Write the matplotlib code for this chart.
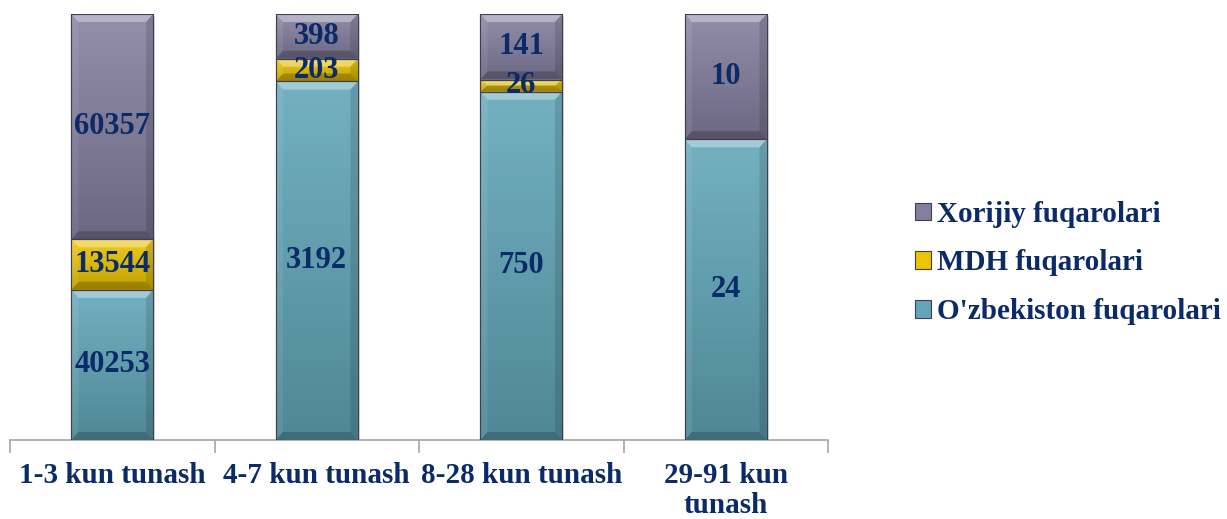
import matplotlib
matplotlib.use("Agg")
import matplotlib.pyplot as plt
import numpy as np
from matplotlib.patches import Polygon, Rectangle
from matplotlib.colors import to_rgb

categories = ["1-3 kun tunash", "4-7 kun tunash", "8-28 kun tunash", "29-91 kun\ntunash"]
series_names = ["O'zbekiston fuqarolari", "MDH fuqarolari", "Xorijiy fuqarolari"]
ozb = [40253, 3192, 750, 24]
mdh = [13544, 203, 26, 0]
xor = [60357, 398, 141, 10]
series = [ozb, mdh, xor]
colors = ["#60a6b8", "#ecc400", "#847e9f"]

plt.rcParams['font.family'] = ['Liberation Serif', 'DejaVu Serif']
txt_color = "#0b2a68"

fig = plt.figure(figsize=(12.27, 5.19), dpi=100)
ax = fig.add_axes([10/1227, 1-440/519, 818/1227, 426/519])

x = np.arange(len(categories))
totals = np.array(ozb) + np.array(mdh) + np.array(xor)
bottom = np.zeros(len(categories))
width = 0.4

def shade(c, f):
    r = np.array(to_rgb(c))
    if f > 0:
        return tuple(r + (1 - r) * f)
    return tuple(r * (1 + f))

bx = 0.035
by_px = 8 / 424.0
for s, (vals, col, name) in enumerate(zip(series, colors, series_names)):
    frac = np.array(vals) / totals
    bars = ax.bar(x, frac, width, bottom=bottom, color=col, edgecolor="#3e3e4e",
                  linewidth=0.8, label=name, zorder=3)
    for i, (b, v) in enumerate(zip(bars, vals)):
        if v == 0:
            continue
        x0, y0 = b.get_x(), b.get_y()
        w, h = b.get_width(), b.get_height()
        x1, y1 = x0 + w, y0 + h
        grad = np.linspace(0, 1, 64).reshape(-1, 1)
        top_c = np.array(shade(col, 0.12))
        bot_c = np.array(shade(col, -0.18))
        img = top_c[None, None, :] * (1 - grad[:, :, None]) + bot_c[None, None, :] * grad[:, :, None]
        im = ax.imshow(img, extent=[x0, x1, y0, y1], origin="upper", aspect="auto", zorder=3.1)
        im.set_clip_path(b)
        by = min(by_px, h / 2)
        bxx = min(bx, w / 2)
        ax.add_patch(Polygon([(x0, y1), (x1, y1), (x1 - bxx, y1 - by), (x0 + bxx, y1 - by)],
                             closed=True, facecolor="white", alpha=0.35, lw=0, zorder=3.2))
        ax.add_patch(Polygon([(x0, y0), (x1, y0), (x1 - bxx, y0 + by), (x0 + bxx, y0 + by)],
                             closed=True, facecolor="black", alpha=0.2, lw=0, zorder=3.2))
        ax.add_patch(Polygon([(x0, y0), (x0, y1), (x0 + bxx, y1 - by), (x0 + bxx, y0 + by)],
                             closed=True, facecolor="white", alpha=0.08, lw=0, zorder=3.2))
        ax.add_patch(Polygon([(x1, y0), (x1, y1), (x1 - bxx, y1 - by), (x1 - bxx, y0 + by)],
                             closed=True, facecolor="black", alpha=0.12, lw=0, zorder=3.2))
        ax.add_patch(Rectangle((x0, y0), w, h, facecolor="none", edgecolor="#3e3e4e",
                               lw=0.8, zorder=3.3))
        ax.text(x0 + w / 2, y0 + h / 2, str(v), ha="center", va="center",
                fontsize=22, fontweight="bold", color=txt_color, zorder=5)
    bottom += frac

for i in range(len(categories)):
    ax.add_patch(Rectangle((x[i] - width / 2 + 0.01, -0.006), width, 1.0, facecolor="#c8c8c8",
                           lw=0, zorder=2, alpha=0.6))

ax.set_xlim(-0.5, len(categories) - 0.5)
ax.set_ylim(0, 1.0)
ax.set_yticks([])
for sp in ["left", "right", "top"]:
    ax.spines[sp].set_visible(False)
ax.spines["bottom"].set_color("#a6a6a6")
ax.spines["bottom"].set_linewidth(1.2)
ax.set_xticks(np.arange(-0.5, len(categories), 1.0))
ax.set_xticklabels([])
ax.tick_params(axis="x", which="major", direction="out", length=9, color="#a6a6a6", width=1.2)
ax.set_xticks(x, minor=True)
ax.set_xticklabels(categories, minor=True, fontsize=21, fontweight="bold", color=txt_color,
                   linespacing=1.12)
ax.tick_params(axis="x", which="minor", length=0, pad=16)
for t in ax.get_xticklabels(minor=True):
    t.set_verticalalignment("top")

handles, labels = ax.get_legend_handles_labels()
leg = fig.legend(handles[::-1], labels[::-1], loc="center left", bbox_to_anchor=(915/1227, 1-263/519),
                 frameon=False, prop={"size": 21, "weight": "bold"}, handlelength=0.55,
                 handleheight=0.55, handletextpad=0.2, labelspacing=0.75,
                 borderpad=0, borderaxespad=0)
for t in leg.get_texts():
    t.set_color(txt_color)

fig.savefig("out.png", dpi=100)
